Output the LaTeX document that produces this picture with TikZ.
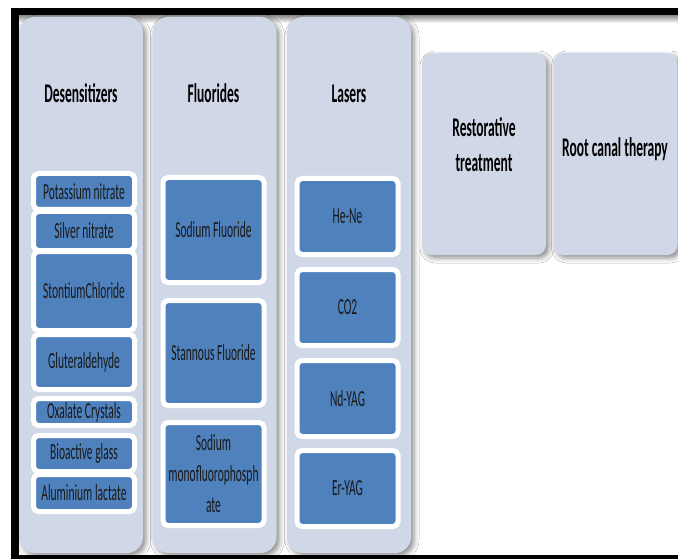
\documentclass[tikz,border=0pt]{standalone}
\usepackage{fontspec}
\setmainfont{Carlito}[FakeStretch=0.5]
\usepackage{xcolor}
\usetikzlibrary{shadows.blur}
\definecolor{panelfill}{RGB}{208,216,232}
\definecolor{itemblue}{RGB}{79,129,189}

\begin{document}
\begin{tikzpicture}[
    x=1pt, y=-1pt,
    panel/.style={fill=panelfill, rounded corners=16pt, minimum width=124pt, minimum height=536pt,
                  inner sep=0pt, blur shadow={shadow xshift=3pt, shadow yshift=-3pt,
                  shadow blur radius=5pt, shadow opacity=45}},
    shortpanel/.style={panel, rounded corners=10pt, minimum height=202pt},
    head/.style={font=\bfseries\fontsize{27}{35}\selectfont, align=center, inner sep=0pt},
    item/.style={fill=itemblue, draw=white, line width=5pt, rounded corners=5pt,
                 minimum width=101pt, inner sep=0pt, align=center, text=black!90,
                 font=\fontsize{23}{31}\selectfont},
    laser/.style={item, minimum height=76pt},
    fluor/.style={item, minimum height=105pt}
]
\useasboundingbox (0,0) rectangle (678,559);
\fill[black] (11,8) rectangle (690,570);
\fill[white] (19,16) rectangle (690,555);
\shade[top color=black!40, bottom color=white] (19,16) rectangle (690,23);

\node[panel]      (desens)    at (81,285)    {};
\node[panel]      (fluorides) at (214.5,285) {};
\node[panel]      (lasers)    at (349,285)   {};
\node[shortpanel] (restor)    at (484,154)   {};
\node[shortpanel] (rootcanal) at (615.5,154) {};

\node[head, anchor=base]  (deshead)   at (81,103)    {Desensitizers};
\node[head, anchor=base]  (fluorhead) at (213.5,103) {Fluorides};
\node[head, anchor=base]  (laserhead) at (349,103)   {Lasers};
\node[head, anchor=north] (restortxt) at (484,117)   {Restorative\\treatment};
\node[head, anchor=base]  (roottxt)   at (615,157)   {Root canal therapy};

\node[item, minimum height=36pt] (potas)   at (84,191.5) {Potassium nitrate};
\node[item, minimum height=39pt] (silver)  at (84,231)   {Silver nitrate};
\node[item, minimum height=79pt] (stront)  at (84,291)   {StontiumChloride};
\node[item, minimum height=55pt] (gluter)  at (84,362)   {Gluteraldehyde};
\node[item, minimum height=27pt] (oxalate) at (84,412)   {Oxalate Crystals};
\node[item, minimum height=36pt] (bioglass) at (84,453.5) {Bioactive glass};
\node[item, minimum height=37pt] (alumin)  at (84,493)   {Aluminium lactate};

\node[fluor] (naf)   at (213.5,230) {Sodium Fluoride};
\node[fluor] (snf)   at (213.5,353) {Stannous Fluoride};
\node[fluor, minimum height=103pt] (mfp) at (213.5,474) {Sodium\\monofluorophosph\\ate};

\node[laser] (hene)  at (347.5,216.5) {He-Ne};
\node[laser] (co2)   at (347.5,307.5) {CO2};
\node[laser] (ndyag) at (347.5,398.5) {Nd-YAG};
\node[laser] (eryag) at (347.5,488.5) {Er-YAG};
\end{tikzpicture}
\end{document}
